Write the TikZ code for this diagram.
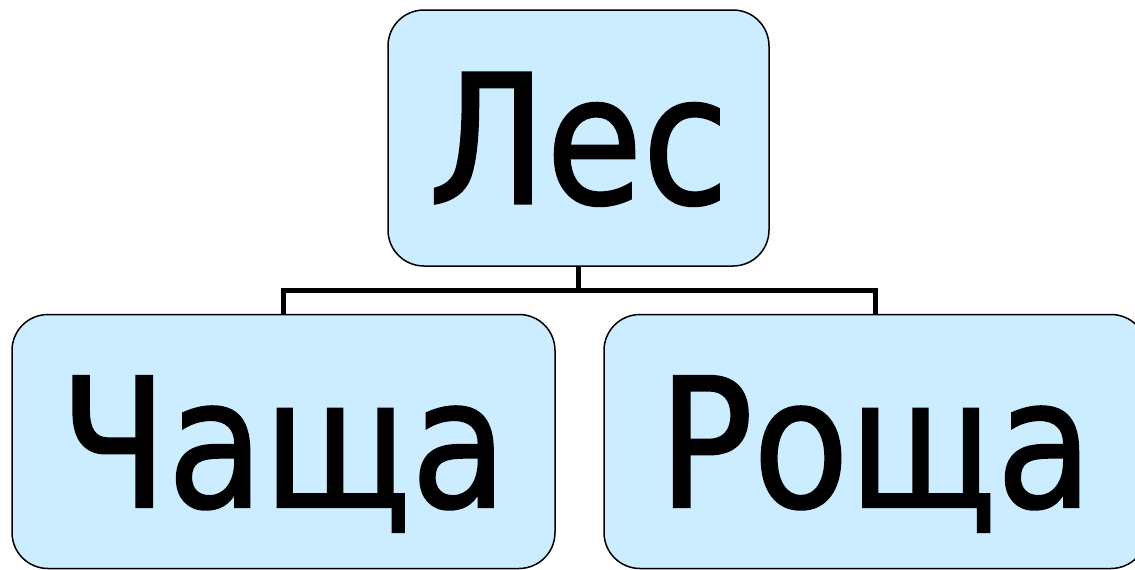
\documentclass[tikz,border=0pt]{standalone}
\usepackage{fontspec}
\setmainfont{DejaVu Sans}[FakeStretch=0.87,FakeBold=1.2]
\usepackage{tikz}
\definecolor{boxblue}{RGB}{204,236,255}

\begin{document}
\begin{tikzpicture}
  [x=1pt,y=-1pt,every node/.style={draw,line width=1.5pt,fill=boxblue,rounded corners=36pt,inner sep=0pt,text depth=0pt,font=\fontsize{180}{190}\selectfont}] % 1 unit = 1 px of the page
  \useasboundingbox (0,0) rectangle (1135,570);

  \node[minimum width=381pt,minimum height=256pt] (les) at (578.5,138) {Лес};
  \node[minimum width=543pt,minimum height=254pt] (chascha) at (283.5,441.5) {Чаща}; % the right one runs past the page edge
  \node[minimum width=543pt,minimum height=254pt] (roshcha) at (875.5,441.5) {Роща};

  \draw[line width=5pt] (les.south) -- ++(0,24) coordinate (fork); % the fork under the top box
  \draw[line width=5pt] (fork) -| (chascha.north);
  \draw[line width=5pt] (fork) -| (roshcha.north);

\end{tikzpicture}
\end{document}
